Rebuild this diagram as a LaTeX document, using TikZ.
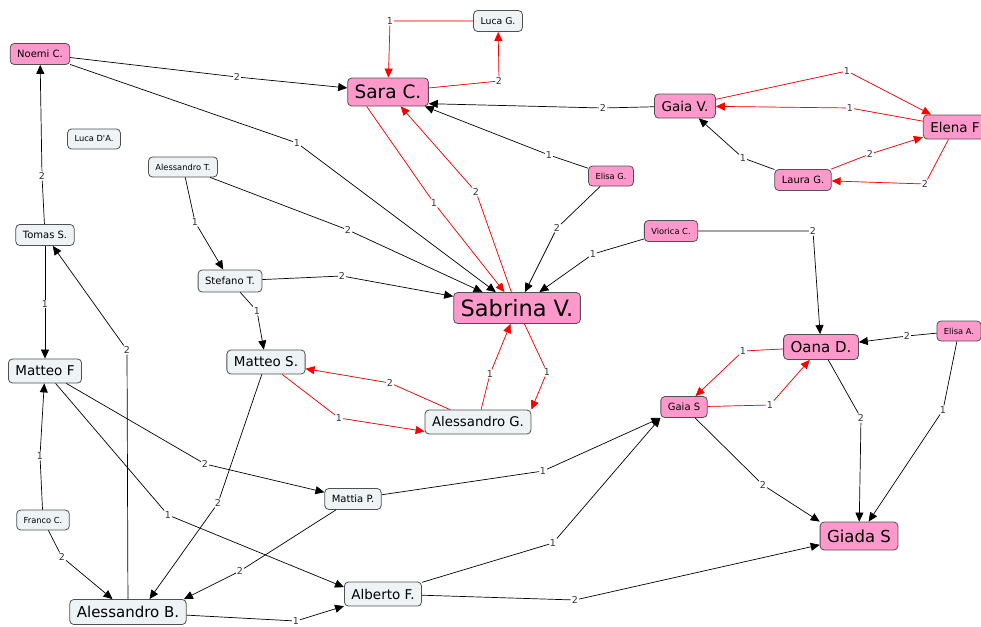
\documentclass[tikz,border=0pt]{standalone}
\usepackage{fontspec}
\setmainfont{DejaVu Sans}
\usetikzlibrary{arrows.meta}
\definecolor{cmpink}{RGB}{255,153,204}
\definecolor{cmgrey}{RGB}{238,243,245}
\definecolor{cmborder}{RGB}{80,80,80}

\tikzset{
	box/.style={draw=cmborder, line width=0.8pt, rounded corners=4pt, inner xsep=7pt, inner ysep=0pt, text=black},
	pbox/.style={box, fill=cmpink},
	gbox/.style={box, fill=cmgrey},
	fs/.style 2 args={font=\fontsize{#1}{#1}\selectfont, minimum height=#2},
	lab/.style={fill=white, inner sep=0.8pt, font=\fontsize{9.5}{9.5}\selectfont, text=black!80},
	link/.style={line width=0.7pt, -{Triangle[length=9pt,width=8pt]}},
	rlink/.style={link, draw=red, fill=red}
}

\begin{document}
\begin{tikzpicture}[x=1pt, y=-1pt]
			\useasboundingbox (0,0) rectangle (981,626);
			\node[pbox, fs={10pt}{21pt}] (noemi) at (40,54) {Noemi C.};
			\node[gbox, fs={8.3pt}{20pt}] (lucada) at (94,139) {Luca D\textquotesingle A.};
			\node[gbox, fs={8.3pt}{20pt}] (alesst) at (183,167) {Alessandro T.};
			\node[gbox, fs={9.3pt}{21pt}] (lucag) at (498,21) {Luca G.};
			\node[pbox, fs={18.5pt}{28pt}] (sara) at (388,92) {Sara C.};
			\node[pbox, fs={13.5pt}{24pt}] (gaiav) at (685,106) {Gaia V.};
			\node[pbox, fs={13.5pt}{24pt}] (elena) at (955,127) {Elena F};
			\node[pbox, fs={10pt}{21pt}] (laura) at (803,180) {Laura G.};
			\node[pbox, fs={8.3pt}{20pt}] (elisag) at (611,176) {Elisa G.};
			\node[gbox, fs={10pt}{21pt}] (tomas) at (45,235) {Tomas S.};
			\node[gbox, fs={10pt}{22pt}] (stefano) at (230,281) {Stefano T.};
			\node[pbox, fs={8.3pt}{21pt}] (viorica) at (671,231) {Viorica C.};
			\node[pbox, fs={22.5pt}{31pt}] (sabrina) at (517,308) {Sabrina V.};
			\node[gbox, fs={13.5pt}{24pt}] (matteof) at (45,371) {Matteo F};
			\node[gbox, fs={13.5pt}{24pt}] (matteos) at (266,362) {Matteo S.};
			\node[pbox, fs={15pt}{25pt}] (oana) at (821,347) {Oana D.};
			\node[pbox, fs={8.3pt}{20pt}] (elisaa) at (959,331) {Elisa A.};
			\node[gbox, fs={13.3pt}{24pt}] (alessg) at (478,422) {Alessandro G.};
			\node[pbox, fs={10pt}{21pt}] (gaias) at (684,407) {Gaia S};
			\node[gbox, fs={10pt}{21pt}] (mattia) at (353,499) {Mattia P.};
			\node[gbox, fs={8.3pt}{20pt}] (franco) at (43,520) {Franco C.};
			\node[pbox, fs={16.5pt}{28pt}] (giada) at (859,536) {Giada S};
			\node[gbox, fs={15pt}{25pt}] (alessb) at (128,612) {Alessandro B.};
			\node[gbox, fs={13.5pt}{24pt}] (alberto) at (383,594) {Alberto F.};

			\node[lab] (l1) at (42,176) {2};
			\node[lab] (l2) at (237,77) {2};
			\node[lab] (l3) at (297,143) {1};
			\node[lab] (l4) at (499,81) {2};
			\node[lab] (l5) at (390,21) {1};
			\node[lab] (l6) at (434,203) {1};
			\node[lab] (l7) at (476,192) {2};
			\node[lab] (l8) at (603,108) {2};
			\node[lab] (l9) at (549,155) {1};
			\node[lab] (l10) at (557,228) {2};
			\node[lab] (l11) at (847,71) {1};
			\node[lab] (l12) at (850,108) {1};
			\node[lab] (l13) at (743,158) {1};
			\node[lab] (l14) at (870,154) {2};
			\node[lab] (l15) at (925,184) {2};
			\node[lab] (l16) at (348,230) {2};
			\node[lab] (l17) at (195,222) {1};
			\node[lab] (l18) at (342,276) {2};
			\node[lab] (l19) at (257,311) {1};
			\node[lab] (l20) at (593,254) {1};
			\node[lab] (l21) at (813,231) {2};
			\node[lab] (l22) at (547,372) {1};
			\node[lab] (l23) at (490,374) {1};
			\node[lab] (l24) at (390,383) {2};
			\node[lab] (l25) at (339,418) {1};
			\node[lab] (l26) at (218,503) {2};
			\node[lab] (l27) at (45,304) {1};
			\node[lab] (l28) at (127,350) {2};
			\node[lab] (l29) at (40,456) {1};
			\node[lab] (l30) at (62,557) {2};
			\node[lab] (l31) at (205,464) {2};
			\node[lab] (l32) at (168,515) {1};
			\node[lab] (l33) at (240,571) {2};
			\node[lab] (l34) at (543,471) {1};
			\node[lab] (l35) at (553,543) {1};
			\node[lab] (l36) at (296,621) {1};
			\node[lab] (l37) at (575,600) {2};
			\node[lab] (l38) at (763,485) {2};
			\node[lab] (l39) at (861,418) {2};
			\node[lab] (l40) at (943,410) {1};
			\node[lab] (l41) at (907,336) {2};
			\node[lab] (l42) at (743,351) {1};
			\node[lab] (l43) at (770,405) {1};

			\draw[link] (tomas) -- (l1) -- (noemi);
			\draw[link] (noemi) -- (l2) -- (sara);
			\draw[link] (noemi) -- (l3) -- (sabrina);
			\draw[rlink] (sara) -- (l4) -- (lucag);
			\draw[rlink] (lucag) -- (l5) -- (sara);
			\draw[rlink] (sara.214) -- (l6) -- (sabrina);
			\draw[rlink] (sabrina) -- (l7) -- (sara);
			\draw[link] (gaiav) -- (l8) -- (sara.-16);
			\draw[link] (elisag) -- (l9) -- (sara);
			\draw[link] (elisag) -- (l10) -- (sabrina);
			\draw[rlink] (gaiav) -- (l11) -- (elena);
			\draw[rlink] (elena) -- (l12) -- (gaiav);
			\draw[link] (laura) -- (l13) -- (gaiav);
			\draw[rlink] (laura) -- (l14) -- (elena);
			\draw[rlink] (elena) -- (l15) -- (laura);
			\draw[link] (alesst) -- (l16) -- (sabrina);
			\draw[link] (alesst) -- (l17) -- (stefano);
			\draw[link] (stefano) -- (l18) -- (sabrina);
			\draw[link] (stefano) -- (l19) -- (matteos);
			\draw[link] (viorica) -- (l20) -- (sabrina);
			\draw[link] (viorica) -- (l21) -- (oana);
			\draw[rlink] (sabrina) -- (l22) -- (alessg.north east);
			\draw[rlink] (alessg) -- (l23) -- (sabrina);
			\draw[rlink] (alessg) -- (l24) -- (matteos);
			\draw[rlink] (matteos) -- (l25) -- (alessg.190);
			\draw[link] (matteos) -- (l26) -- (alessb.31);
			\draw[link] (tomas) -- (l27) -- (matteof);
			\draw[link] (alessb) -- (l28) -- (tomas);
			\draw[link] (franco) -- (l29) -- (matteof);
			\draw[link] (franco) -- (l30) -- (alessb);
			\draw[link] (matteof) -- (l31) -- (mattia);
			\draw[link] (matteof) -- (l32) -- (alberto.170);
			\draw[link] (mattia) -- (l33) -- (alessb.13);
			\draw[link] (mattia) -- (l34) -- (gaias.south west);
			\draw[link] (alberto) -- (l35) -- (gaias.south west);
			\draw[link] (alessb) -- (l36) -- (alberto);
			\draw[link] (alberto) -- (l37) -- (giada);
			\draw[link] (gaias) -- (l38) -- (giada.north west);
			\draw[link] (oana) -- (l39) -- (giada);
			\draw[link] (elisaa) -- (l40) -- (giada);
			\draw[link] (elisaa) -- (l41) -- (oana);
			\draw[rlink] (oana) -- (l42) -- (gaias);
			\draw[rlink] (gaias) -- (l43) -- (oana);
		\end{tikzpicture}
\end{document}
